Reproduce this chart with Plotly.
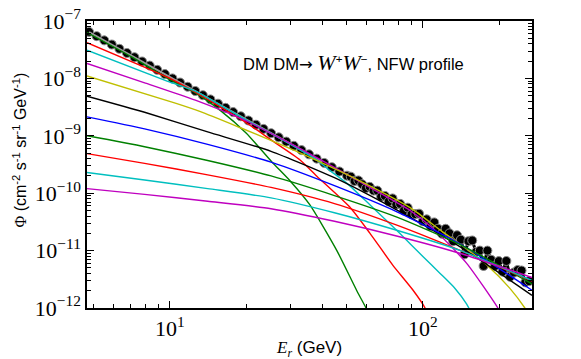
import plotly.graph_objects as go

# ---------------- data ----------------
data_E = [4.79, 5.13, 5.50, 5.89, 6.31, 6.76, 7.24, 7.76, 8.32, 8.91, 9.55, 10.23, 10.96, 11.75,
          12.59, 13.49, 14.45, 15.49, 16.60, 17.78, 19.05, 20.42, 21.88, 23.44, 25.12, 26.92,
          28.84, 30.90, 33.11, 35.48, 38.02, 40.74, 43.65, 46.77,
          50.12, 51.88, 53.70, 55.59, 57.54, 59.57, 61.66, 63.83, 66.07, 68.39, 70.79, 73.28,
          75.86, 78.52, 81.28, 84.14, 87.10, 90.16, 93.33, 96.61, 100.0, 103.5, 107.2, 110.9,
          114.8, 118.9, 123.0, 127.4, 131.8, 136.5, 141.3, 146.2, 151.4, 156.7, 162.2, 167.9,
          173.8, 179.9, 186.2, 192.8, 199.5, 206.5, 213.8, 221.3, 229.1, 237.1, 245.5, 254.1, 263.0]
data_flux = [6.46e-8, 5.45e-8, 4.60e-8, 3.89e-8, 3.28e-8, 2.77e-8, 2.34e-8, 1.97e-8, 1.67e-8,
             1.41e-8, 1.19e-8, 1.00e-8, 8.47e-9, 7.15e-9, 6.04e-9, 5.10e-9, 4.31e-9, 3.63e-9,
             3.07e-9, 2.59e-9, 2.19e-9, 1.85e-9, 1.56e-9, 1.32e-9, 1.11e-9, 9.39e-10, 7.93e-10,
             6.69e-10, 5.64e-10, 4.75e-10, 4.00e-10, 3.37e-10, 2.84e-10, 2.39e-10,
             2.02e-10, 1.94e-10, 1.63e-10, 1.67e-10, 1.43e-10, 1.23e-10, 1.29e-10, 1.11e-10,
             1.11e-10, 8.71e-11, 8.97e-11, 7.18e-11, 8.11e-11, 6.33e-11, 6.52e-11, 4.98e-11,
             5.60e-11, 4.30e-11, 4.32e-11, 4.40e-11, 3.24e-11, 3.50e-11, 2.67e-11, 3.10e-11,
             2.41e-11, 1.97e-11, 2.40e-11, 2.00e-11, 1.46e-11, 1.85e-11, 1.55e-11, 8.6e-12,
             1.46e-11, 1.50e-11, 9.5e-12, 1.0e-11, 5.4e-12, 1.0e-11, 6.93e-12, 5.4e-12,
             6.56e-12, 4.3e-12, 6.6e-12, 3.5e-12, 4.15e-12, 4.60e-12, 4.5e-12, 2.8e-12, 2.94e-12]

gray_E = [4.79, 10.0, 20.0, 30.0, 40.0]
gray_flux = [6.4e-8, 1.07e-8, 1.95e-9, 7.2e-10, 3.5e-10]

# model curves
c1_E = [4.7, 7.08, 10.0, 12.6, 15.85, 20.0, 25.3, 30.0, 35.7, 45.7, 54.8, 59.6, 62.0]
c1_F = [6.3e-8, 2.35e-8, 9.5e-9, 5.6e-9, 2.75e-9, 1.12e-9, 3.5e-10, 1.6e-10, 6.3e-11, 1.0e-11, 2.0e-12, 1.0e-12, 7e-13]
c2_E = [4.7, 8.1, 10.0, 12.6, 15.85, 20.0, 25.1, 32.7, 38.0, 51.4, 61.6, 76.0, 91.0, 102.0, 106.0]
c2_F = [4.2e-8, 1.51e-8, 1.0e-8, 5.75e-9, 3.16e-9, 1.7e-9, 8.5e-10, 3.8e-10, 2.0e-10, 5.75e-11, 2.04e-11, 5.6e-12, 2.1e-12, 1.0e-12, 6.3e-13]
c3_E = [4.7, 9.8, 12.6, 15.85, 20.0, 25.1, 31.6, 37.4, 42.8, 50.0, 61.7, 81.0, 100.0, 117.0, 134.0, 149.0, 160.0]
c3_F = [3.1e-8, 8.9e-9, 6.0e-9, 3.4e-9, 1.9e-9, 1.1e-9, 6.2e-10, 4.0e-10, 2.5e-10, 1.5e-10, 6.3e-11, 2.0e-11, 7.9e-12, 4.0e-12, 2.19e-12, 1.17e-12, 6.3e-13]
c4_E = [4.7, 8.0, 12.6, 20.0, 29.0, 40.0, 63.0, 89.0, 110.0, 149.0, 198.0, 210.0]
c4_F = [1.82e-8, 8.3e-9, 4.17e-9, 1.82e-9, 7.9e-10, 3.7e-10, 1.2e-10, 5.0e-11, 2.4e-11, 6.0e-12, 1.0e-12, 6.3e-13]
c5_E = [4.7, 10.5, 13.2, 19.0, 24.8, 31.2, 56.0, 89.0, 120.0, 150.0, 179.0, 220.0, 253.0, 265.0]
c5_F = [1.1e-8, 3.7e-9, 2.63e-9, 1.38e-9, 8.5e-10, 5.5e-10, 1.66e-10, 5.6e-11, 2.1e-11, 1.05e-11, 5.6e-12, 2.24e-12, 1.0e-12, 7.1e-13]
low_E = [4.7, 7.94, 14.1, 25.1, 44.7, 79.4, 141.0, 270.0]
c6_F = [4.9e-9, 2.57e-9, 1.17e-9, 5.37e-10, 1.86e-10, 5.0e-11, 1.15e-11, 1.66e-12]
c7_F = [2.14e-9, 1.32e-9, 7.08e-10, 3.47e-10, 1.35e-10, 4.68e-11, 1.29e-11, 2.04e-12]
c8_F = [1.0e-9, 6.46e-10, 3.72e-10, 2.0e-10, 9.1e-11, 3.8e-11, 1.26e-11, 2.63e-12]
c9_F = [4.9e-10, 3.31e-10, 2.09e-10, 1.26e-10, 6.6e-11, 2.75e-11, 1.0e-11, 2.95e-12]
c10_F = [2.29e-10, 1.7e-10, 1.2e-10, 8.3e-11, 4.57e-11, 2.24e-11, 1.0e-11, 3.0e-12]
c11_F = [1.2e-10, 9.55e-11, 7.24e-11, 5.37e-11, 3.24e-11, 1.78e-11, 8.9e-12, 3.4e-12]

curve_colors = ["#008000", "#ff0000", "#00bfbf", "#bf00bf", "#bfbf00", "#000000",
                "#0000ff", "#008000", "#ff0000", "#00bfbf", "#bf00bf"]
curves_E = [c1_E, c2_E, c3_E, c4_E, c5_E, low_E, low_E, low_E, low_E, low_E, low_E]
curves_F = [c1_F, c2_F, c3_F, c4_F, c5_F, c6_F, c7_F, c8_F, c9_F, c10_F, c11_F]

y_ticks = [1e-12, 1e-11, 1e-10, 1e-9, 1e-8, 1e-7]
y_ticktext = ["10<sup>−12</sup>", "10<sup>−11</sup>", "10<sup>−10</sup>",
              "10<sup>−9</sup>", "10<sup>−8</sup>", "10<sup>−7</sup>"]
x_ticks = [10, 100]
x_ticktext = ["10<sup>1</sup>", "10<sup>2</sup>"]

# ---------------- figure ----------------
fig = go.Figure()

fig.add_trace(go.Scatter(x=data_E, y=data_flux, mode="lines+markers",
                         line=dict(color="black", width=3),
                         marker=dict(color="black", size=9, line=dict(color="#8a8a8a", width=1)),
                         showlegend=False))
fig.add_trace(go.Scatter(x=gray_E, y=gray_flux, mode="lines",
                         line=dict(color="#9a9a9a", width=2), showlegend=False))
for col, ex, fx in zip(curve_colors, curves_E, curves_F):
    fig.add_trace(go.Scatter(x=ex, y=fx, mode="lines",
                             line=dict(color=col, width=1.4, shape="spline", smoothing=0.6),
                             showlegend=False))

minor_y = [m * 10.0 ** e for e in range(-12, -7) for m in range(2, 10)]
minor_x = [m * 10.0 ** e for e in range(0, 3) for m in range(2, 10)]
minor_x = [v for v in minor_x if 4.7 < v < 270 and v not in (10, 100)]

serif = "Liberation Serif"
axis_common = dict(showgrid=False, zeroline=False, showline=True, linecolor="black",
                   linewidth=1.5, mirror="ticks", ticks="inside", ticklen=7,
                   tickcolor="black", tickwidth=1, automargin=False,
                   ticklabeloverflow="allow",
                   tickfont=dict(family=serif, size=22, color="black"))
fig.update_xaxes(type="log", range=[0.6721, 2.4314], tickvals=x_ticks, ticktext=x_ticktext,
                 minor=dict(tickmode="array", tickvals=minor_x, ticks="inside", ticklen=4,
                            tickcolor="black", tickwidth=1, showgrid=False),
                 **axis_common)
fig.update_yaxes(type="log", range=[-12, -7], tickvals=y_ticks, ticktext=y_ticktext,
                 minor=dict(tickmode="array", tickvals=minor_y, ticks="inside", ticklen=4,
                            tickcolor="black", tickwidth=1, showgrid=False),
                 **axis_common)

fig.add_annotation(xref="paper", yref="paper", x=-0.1775, y=0.549, showarrow=False,
                   textangle=-90, xanchor="left", yanchor="middle",
                   text="<span style='font-family:Liberation Serif'>Φ</span> (cm<sup>-2</sup> s<sup>-1</sup> sr<sup>-1</sup> GeV<sup>-1</sup>)",
                   font=dict(family="Liberation Sans", size=16, color="black"))
fig.add_annotation(xref="paper", yref="paper", x=0.499, y=-0.143, showarrow=False,
                   xanchor="center", yanchor="middle",
                   text="<i><span style='font-family:Liberation Serif'>E<sub>r</sub></span></i> (GeV)",
                   font=dict(family="Liberation Sans", size=17, color="black"))
fig.add_annotation(xref="paper", yref="paper", x=0.598, y=0.857, showarrow=False,
                   xanchor="center", yanchor="middle",
                   text="DM DM<span style='font-family:DejaVu Sans'>→</span> "
                        "<i><span style='font-family:Liberation Serif;font-size:22px'>W</span></i><sup>+</sup>"
                        "<i><span style='font-family:Liberation Serif;font-size:22px'>W</span></i><sup>−</sup>, NFW profile",
                   font=dict(family="Liberation Sans", size=16.5, color="black"))

# the page body has an 8px margin, so the figure is 8px smaller on each axis
fig.update_layout(width=573, height=351, margin=dict(l=79, r=49, t=13, b=51),
                  paper_bgcolor="white", plot_bgcolor="white")

fig.write_html("out.html")
